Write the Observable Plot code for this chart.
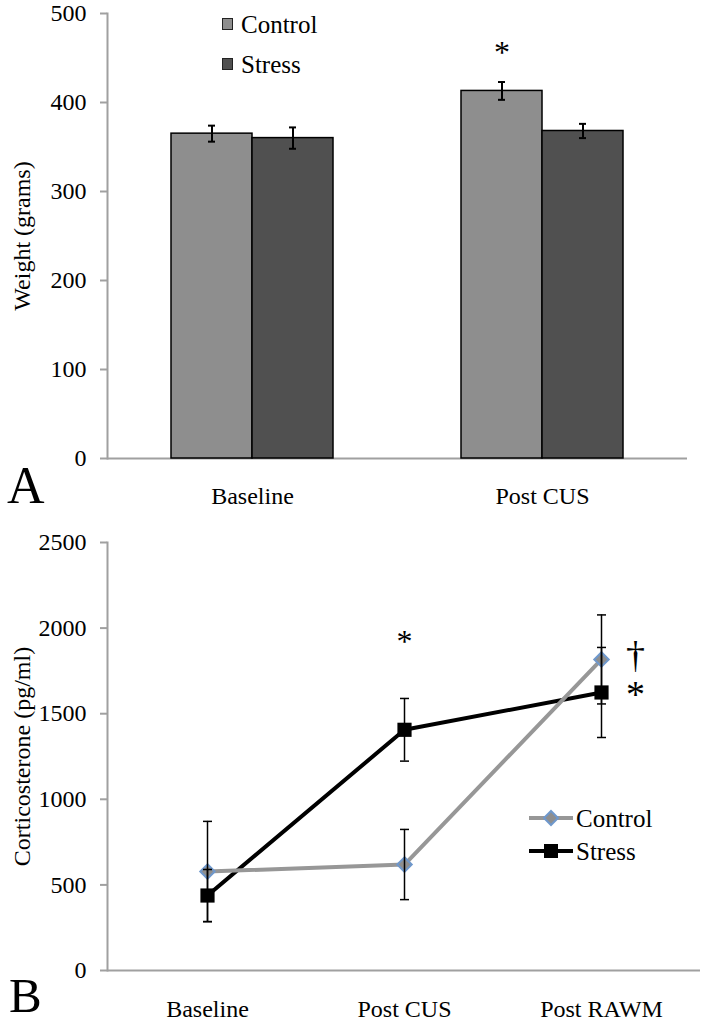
<!DOCTYPE html>
<html>
<head>
<meta charset="utf-8">
<script src="https://cdn.jsdelivr.net/npm/d3@7"></script>
<script src="https://cdn.jsdelivr.net/npm/@observablehq/plot@0.6"></script>
<style>
  body { margin: 0; background: white; font-family: "Liberation Serif", "Times New Roman", "DejaVu Serif", serif; }
  #wrap { position: relative; width: 705px; height: 1023px; overflow: hidden; }
  #wrap svg { display: block; }
  .panel { position: absolute; font-size: 52px; line-height: 1; }
  .leg { position: absolute; font-size: 25px; line-height: 1; white-space: nowrap; }
</style>
</head>
<body>
<div id="wrap">
  <div id="chartA"></div>
  <div id="chartB"></div>
  <div class="panel" style="left:7px; top:460px;">A</div>
  <div class="panel" style="left:9px; top:971px; font-size:49px;">B</div>
</div>
<script>
// panel A: body weight
const weightTimes = ["Baseline", "Post CUS"];
const groups = ["Control", "Stress"];
const weightControl = [365, 413];
const weightStress = [360, 368];
const weightControlErr = [9, 10];
const weightStressErr = [12, 8];

// panel B: corticosterone
const cortTimes = ["Baseline", "Post CUS", "Post RAWM"];
const cortControl = [578, 619, 1817];
const cortStress = [438, 1406, 1624];
const cortControlErr = [293, 205, 260];
const cortStressErr = [152, 183, 263];

// significance marks
const weightStars = [{time: "Post CUS", group: "Control", value: 462, label: "*"}];
const cortStars = [{time: "Post CUS", value: 1951, label: "*"}];
const cortSideMarks = [
  {time: "Post RAWM", value: 1840, label: "†"},
  {time: "Post RAWM", value: 1612, label: "*"}
];

const grayFill = "#8e8e8e";
const darkFill = "#505050";
const axisGray = "#a0a0a0";
const serif = "'Liberation Serif', 'Times New Roman', 'DejaVu Serif', serif";

let weightRows = [];
weightTimes.forEach((t, i) => {
  weightRows.push({time: t, group: "Control", value: weightControl[i], err: weightControlErr[i]});
  weightRows.push({time: t, group: "Stress", value: weightStress[i], err: weightStressErr[i]});
});

let cortRows = [];
cortTimes.forEach((t, i) => {
  cortRows.push({time: t, group: "Control", value: cortControl[i], err: cortControlErr[i]});
  cortRows.push({time: t, group: "Stress", value: cortStress[i], err: cortStressErr[i]});
});
const cortCtrl = cortRows.filter(d => d.group === "Control");
const cortStr = cortRows.filter(d => d.group === "Stress");

// short horizontal stroke used as error bar cap on the point scale
const capSymbol = {draw(ctx) { ctx.moveTo(-4.5, 0); ctx.lineTo(4.5, 0); }};

const font = {fontFamily: serif, fontSize: "24px", color: "black", background: "white", overflow: "visible"};

let weightChart = Plot.plot({
  width: 705,
  height: 515,
  marginLeft: 107,
  marginRight: 18,
  marginTop: 13,
  marginBottom: 57,
  style: font,
  fx: {domain: weightTimes, padding: 0, axis: null, label: null},
  x: {domain: groups, paddingInner: 0, paddingOuter: 0.77, axis: null},
  y: {domain: [0, 500], axis: null},
  color: {domain: groups, range: [grayFill, darkFill]},
  marks: [
    Plot.ruleY([0], {stroke: axisGray, strokeWidth: 2}),
    Plot.frame({anchor: "left", stroke: axisGray, strokeWidth: 2, facetAnchor: "left"}),
    Plot.axisY({ticks: [0, 100, 200, 300, 400, 500], tickFormat: d3.format("d"), tickSize: 7, tickPadding: 14,
      fontSize: 24, stroke: axisGray, strokeWidth: 2, label: null}),
    Plot.text(["Weight (grams)"], {frameAnchor: "left", textAnchor: "middle", rotate: -90, dx: -85, fontSize: 24, facetAnchor: "left"}),
    Plot.axisFx({anchor: "bottom", tickSize: 0, tickPadding: 28, fontSize: 24, label: null}),
    Plot.barY(weightRows, {fx: "time", x: "group", y: "value", fill: "group", stroke: "black", strokeWidth: 1.5}),
    Plot.ruleX(weightRows, {fx: "time", x: "group", y1: d => d.value - d.err, y2: d => d.value + d.err, stroke: "black", strokeWidth: 2}),
    Plot.tickY(weightRows, {fx: "time", x: "group", y: d => d.value - d.err, insetLeft: 37, insetRight: 37, stroke: "black", strokeWidth: 2}),
    Plot.tickY(weightRows, {fx: "time", x: "group", y: d => d.value + d.err, insetLeft: 37, insetRight: 37, stroke: "black", strokeWidth: 2}),
    Plot.text(weightStars, {fx: "time", x: "group", y: "value", text: "label", fontSize: 32, dy: 5})
  ]
});
d3.select('#chartA').append(() => weightChart);

let cortChart = Plot.plot({
  width: 705,
  height: 508,
  marginLeft: 107,
  marginRight: 5,
  marginTop: 27,
  marginBottom: 53,
  style: font,
  x: {type: "point", domain: cortTimes, padding: 0.5, axis: null},
  y: {domain: [0, 2500], axis: null},
  marks: [
    Plot.ruleY([0], {stroke: axisGray, strokeWidth: 2}),
    Plot.frame({anchor: "left", stroke: axisGray, strokeWidth: 2}),
    Plot.axisY({ticks: [0, 500, 1000, 1500, 2000, 2500], tickFormat: d3.format("d"), tickSize: 7, tickPadding: 14,
      fontSize: 24, stroke: axisGray, strokeWidth: 2, label: null}),
    Plot.text(["Corticosterone (pg/ml)"], {frameAnchor: "left", textAnchor: "middle", rotate: -90, dx: -85, fontSize: 24}),
    Plot.axisX({tickSize: 0, tickPadding: 29, fontSize: 24, label: null}),
    Plot.line(cortStr, {x: "time", y: "value", stroke: "black", strokeWidth: 4}),
    Plot.line(cortCtrl, {x: "time", y: "value", stroke: "#979797", strokeWidth: 4}),
    Plot.dot(cortCtrl, {x: "time", y: "value", symbol: "diamond2", r: 6.5, fill: grayFill, stroke: "#6f98cc", strokeWidth: 2}),
    Plot.dot(cortStr, {x: "time", y: "value", symbol: "square", r: 8, fill: "black"}),
    Plot.ruleX(cortRows, {x: "time", y1: d => d.value - d.err, y2: d => d.value + d.err, stroke: "black", strokeWidth: 1.5}),
    Plot.dot(cortRows, {x: "time", y: d => d.value - d.err, symbol: capSymbol, fill: "none", stroke: "black", strokeWidth: 1.5}),
    Plot.dot(cortRows, {x: "time", y: d => d.value + d.err, symbol: capSymbol, fill: "none", stroke: "black", strokeWidth: 1.5}),
    Plot.text(cortStars, {x: "time", y: "value", text: "label", fontSize: 32, dy: 5}),
    Plot.text(cortSideMarks, {x: "time", y: "value", text: "label", fontSize: 38, dx: 34})
  ]
});
d3.select('#chartB').append(() => cortChart);

// legends
const wrap = d3.select('#wrap');
const legTop = [{label: "Control", fill: grayFill, y: 18}, {label: "Stress", fill: darkFill, y: 58}];
legTop.forEach(d => {
  wrap.append('div').attr('class', 'leg')
    .style('left', '222px').style('top', d.y + 'px')
    .html(`<span style="display:inline-block;width:9px;height:10px;border:1.5px solid #222;background:${d.fill};vertical-align:top"></span>`);
  wrap.append('div').attr('class', 'leg')
    .style('left', '241px').style('top', (d.y - 6) + 'px')
    .text(d.label);
});

const legBottom = [
  {label: "Control", stroke: "#979797", y: 818, symbol: "diamond"},
  {label: "Stress", stroke: "black", y: 851, symbol: "square"}
];
legBottom.forEach(d => {
  const svg = wrap.append('svg').attr('width', 50).attr('height', 20)
    .style('position', 'absolute').style('left', '527px').style('top', (d.y - 10) + 'px');
  svg.append('line').attr('x1', 2).attr('x2', 46).attr('y1', 10).attr('y2', 10)
    .attr('stroke', d.stroke).attr('stroke-width', 4);
  if (d.symbol === "diamond") {
    svg.append('path').attr('d', 'M24,3L31,10L24,17L17,10Z')
      .attr('fill', grayFill).attr('stroke', '#6f98cc').attr('stroke-width', 2);
  } else {
    svg.append('rect').attr('x', 17).attr('y', 3).attr('width', 14).attr('height', 14).attr('fill', 'black');
  }
  wrap.append('div').attr('class', 'leg')
    .style('left', '576px').style('top', (d.y - 12) + 'px')
    .text(d.label);
});
</script>
</body>
</html>
